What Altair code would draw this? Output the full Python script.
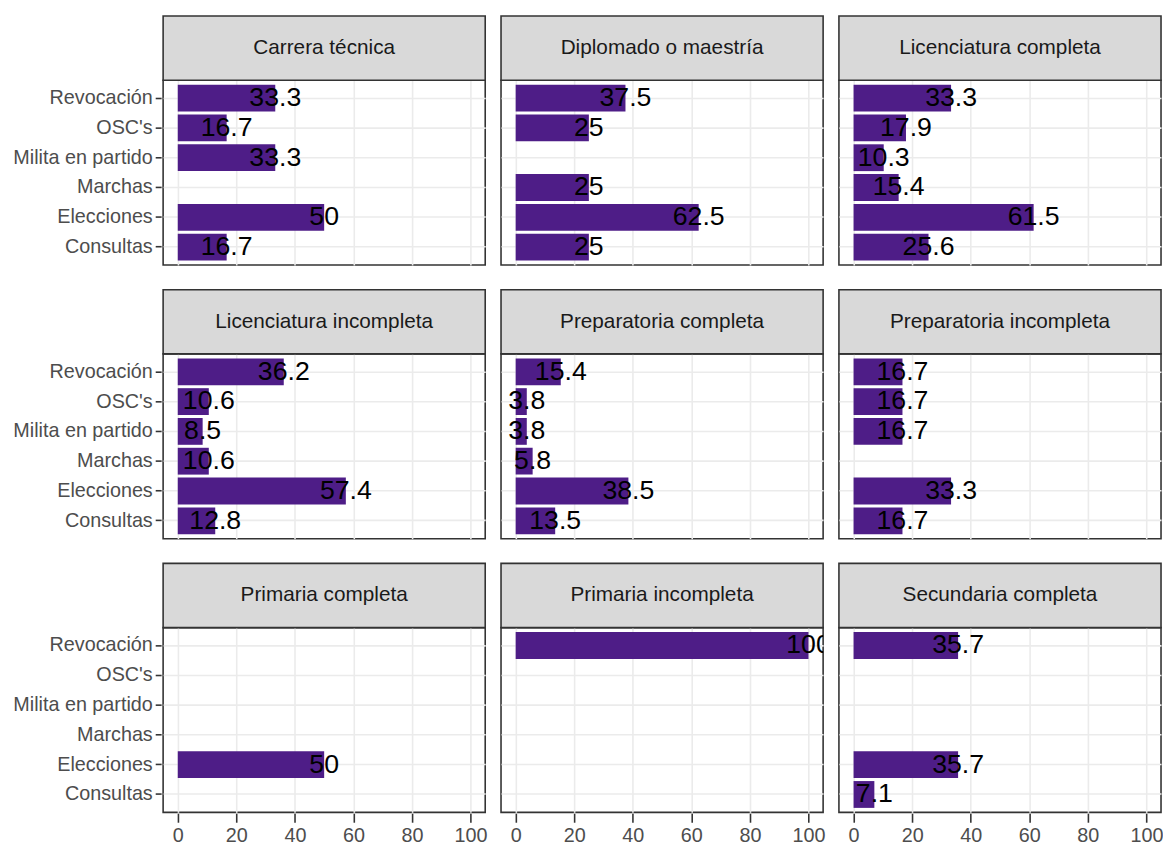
import altair as alt
import pandas as pd

panels = ["Carrera técnica", "Diplomado o maestría", "Licenciatura completa",
          "Licenciatura incompleta", "Preparatoria completa", "Preparatoria incompleta",
          "Primaria completa", "Primaria incompleta", "Secundaria completa"]
categories = ["Revocación", "OSC's", "Milita en partido", "Marchas", "Elecciones", "Consultas"]

# values per panel, in the order of `categories`; None = no bar
carrera_tecnica = [33.3, 16.7, 33.3, None, 50, 16.7]
diplomado_maestria = [37.5, 25, None, 25, 62.5, 25]
licenciatura_completa = [33.3, 17.9, 10.3, 15.4, 61.5, 25.6]
licenciatura_incompleta = [36.2, 10.6, 8.5, 10.6, 57.4, 12.8]
preparatoria_completa = [15.4, 3.8, 3.8, 5.8, 38.5, 13.5]
preparatoria_incompleta = [16.7, 16.7, 16.7, None, 33.3, 16.7]
primaria_completa = [None, None, None, None, 50, None]
primaria_incompleta = [100, None, None, None, None, None]
secundaria_completa = [35.7, None, None, None, 35.7, 7.1]

series = [carrera_tecnica, diplomado_maestria, licenciatura_completa,
          licenciatura_incompleta, preparatoria_completa, preparatoria_incompleta,
          primaria_completa, primaria_incompleta, secundaria_completa]

x_ticks = [0, 10, 20, 30, 40, 50, 60, 70, 80, 90, 100]

rows = []
for p, vals in zip(panels, series):
    for c, v in zip(categories, vals):
        rows.append({"panel": p, "cat": c, "value": v,
                     "label": (f"{v:g}" if v is not None else "")})
df = pd.DataFrame(rows)

FONT = "Liberation Sans"
W, H, STRIP = 326, 187, 65

xscale = alt.Scale(domain=[-5, 105], nice=False, zero=False)
yscale = alt.Scale(domain=categories, paddingInner=0.1, paddingOuter=0.15)

xaxis = alt.Axis(values=x_ticks, title=None, grid=True, domain=False,
                 labelExpr="datum.value % 20 == 0 ? datum.label : ''",
                 tickOpacity={"condition": {"test": "datum.value % 20 == 0", "value": 1}, "value": 0},
                 gridWidth={"condition": {"test": "datum.value % 20 == 0", "value": 1.6}, "value": 0.8},
                 gridColor="#EBEBEB", tickColor="#333333", tickSize=9, tickWidth=1.6,
                 labelColor="#4D4D4D", labelFont=FONT, labelFontSize=20, labelPadding=3)
yaxis = alt.Axis(title=None, grid=True, domain=False, gridColor="#EBEBEB", gridWidth=1.6,
                 tickColor="#333333", tickSize=6, tickWidth=1.6,
                 labelColor="#4D4D4D", labelFont=FONT, labelFontSize=20, labelPadding=3)

base = alt.Chart(df)

bars = base.transform_filter("isValid(datum.value)").mark_bar(color="#4E1D87").encode(
    x=alt.X("value:Q", scale=xscale, axis=xaxis),
    y=alt.Y("cat:N", scale=yscale, axis=yaxis, sort=categories),
)
texts = base.transform_filter("isValid(datum.value)").mark_text(
    font=FONT, fontSize=27, color="#000000", align="center", baseline="middle", clip=True
).encode(
    x=alt.X("value:Q", scale=xscale),
    y=alt.Y("cat:N", scale=yscale, sort=categories),
    text="label:N",
)
strip_rect = base.transform_filter("datum.cat == 'Revocación'").mark_rect(
    fill="#D9D9D9", stroke="#333333", strokeWidth=1.6
).encode(x=alt.value(0), x2=alt.value(W), y=alt.value(-STRIP), y2=alt.value(0))
strip_text = base.transform_filter("datum.cat == 'Revocación'").mark_text(
    font=FONT, fontSize=21, color="#1A1A1A", align="center", baseline="middle"
).encode(x=alt.value(W / 2), y=alt.value(-STRIP / 2), text="panel:N")

layered = alt.layer(bars, texts, strip_rect, strip_text).properties(width=W, height=H)

chart = layered.facet(
    facet=alt.Facet("panel:N", sort=panels,
                    header=alt.Header(labels=False, title=None, labelExpr="''",
                                      labelFontSize=1, labelPadding=0)),
    columns=3,
    spacing={"row": 21, "column": 12},
).properties(
    padding={"left": 4, "top": 0, "right": 0, "bottom": 0}
).configure_header(
    labels=False, labelPadding=0, titlePadding=0
).configure_view(
    stroke="#333333", strokeWidth=1.6, fill="white"
)

chart.save("out.html", embed_options={"renderer": "svg", "actions": False})
